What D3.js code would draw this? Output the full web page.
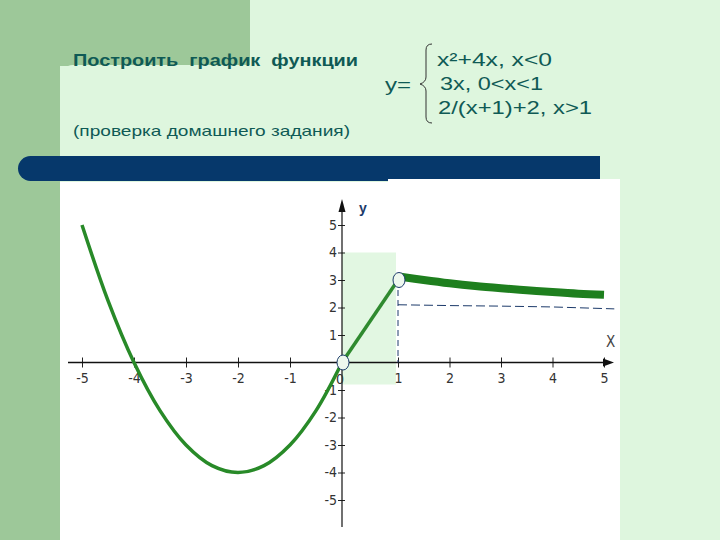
<!DOCTYPE html>
<html>
<head>
<meta charset="utf-8">
<script src="https://cdn.jsdelivr.net/npm/d3@7"></script>
<style>
  body { margin: 0; }
  svg { display: block; }
</style>
</head>
<body>
<div id="chart"></div>
<script>
// values
const xTicks = [-5, -4, -3, -2, -1, 1, 2, 3, 4, 5];
const yTicks = [-5, -4, -3, -2, -1, 1, 2, 3, 4, 5];

const parabolaX = [-5, -4.5, -4, -3.5, -3, -2.5, -2, -1.5, -1, -0.5, 0];
const parabolaY = [5, 2.25, 0, -1.75, -3, -3.75, -4, -3.75, -3, -1.75, 0];

const lineX = [0, 1];
const lineY = [0, 3];

const hypX = [1.05, 1.5, 2, 2.5, 3, 3.5, 4, 4.5, 5];
const hypY = [3.12, 3.0, 2.88, 2.78, 2.7, 2.63, 2.56, 2.5, 2.46];

const asymX = [1, 2, 3, 4, 5.2];
const asymY = [2.1, 2.07, 2.05, 2.02, 1.95];

const holeX = [0, 1];
const holeY = [0, 3];

const formulaLines = ["x²+4x, x<0", "3x, 0<x<1", "2/(x+1)+2, x>1"];
const formulaWidths = [115, 103, 154];

function draw() {
    const svg = d3.select("#chart").append("svg")
        .attr("width", 720)
        .attr("height", 540);

    // slide background
    svg.append("rect").attr("width", 720).attr("height", 540).attr("fill", "#def6de");
    svg.append("rect").attr("x", 0).attr("y", 0).attr("width", 60).attr("height", 540).attr("fill", "#9dc899");
    svg.append("rect").attr("x", 0).attr("y", 0).attr("width", 250).attr("height", 66).attr("fill", "#9dc899");
    svg.append("rect").attr("x", 60).attr("y", 65).attr("width", 300).attr("height", 100).attr("rx", 13).attr("fill", "#def6de");

    // dark bar
    svg.append("rect").attr("x", 18).attr("y", 156).attr("width", 100).attr("height", 25).attr("rx", 12.5).attr("fill", "#06386b");
    svg.append("rect").attr("x", 40).attr("y", 156).attr("width", 560).attr("height", 25).attr("fill", "#06386b");

    // plot area
    svg.append("rect").attr("x", 60).attr("y", 182).attr("width", 560).attr("height", 358).attr("fill", "#ffffff");
    svg.append("rect").attr("x", 388).attr("y", 179).attr("width", 232).attr("height", 361).attr("fill", "#ffffff");

    // headings (the slide text is stretched sideways, so fix its width)
    const teal = "#0f5a55";
    const sans = "Liberation Sans, Arial, sans-serif";
    svg.append("text").attr("x", 73).attr("y", 66)
        .attr("font-family", sans)
        .attr("font-size", 16).attr("font-weight", "bold").attr("fill", teal)
        .style("white-space", "pre")
        .attr("textLength", 285).attr("lengthAdjust", "spacingAndGlyphs")
        .text("Построить  график  функции");
    svg.append("text").attr("x", 73).attr("y", 136)
        .attr("font-family", sans)
        .attr("font-size", 15).attr("fill", teal)
        .attr("textLength", 277).attr("lengthAdjust", "spacingAndGlyphs")
        .text("(проверка домашнего задания)");

    svg.append("text").attr("x", 385).attr("y", 91)
        .attr("font-family", sans)
        .attr("font-size", 19).attr("fill", teal)
        .attr("textLength", 26).attr("lengthAdjust", "spacingAndGlyphs")
        .text("y=");
    svg.append("path")
        .attr("d", "M432,44 Q426,44 426,50 L426,77 Q426,82 420,84 Q426,86 426,91 L426,117 Q426,123 432,123")
        .attr("fill", "none").attr("stroke", "#333").attr("stroke-width", 1);
    svg.selectAll(".fline").data(formulaLines).enter().append("text")
        .attr("class", "fline")
        .attr("x", (d, i) => [437, 440, 438][i])
        .attr("y", (d, i) => 66 + i * 24)
        .attr("font-family", sans)
        .attr("font-size", 19).attr("fill", teal)
        .attr("textLength", (d, i) => formulaWidths[i]).attr("lengthAdjust", "spacingAndGlyphs")
        .text(d => d);

    // scales (the picture's unit spacing differs left and right of 0..1)
    const x = d3.scaleLinear().domain([-5, 0, 1, 5]).range([82, 342, 398, 604]);
    const y = d3.scaleLinear().domain([-5, 5]).range([500, 225]);

    // light highlight behind the 0..1 piece
    svg.append("rect")
        .attr("x", x(0)).attr("y", y(4))
        .attr("width", x(1) - x(0) - 2).attr("height", y(-0.8) - y(4))
        .attr("fill", "#e2f7e2");

    const labelFont = "Liberation Sans Narrow, DejaVu Sans Condensed, sans-serif";

    // x axis
    const xAxis = svg.append("g")
        .attr("transform", `translate(0,${y(0)})`)
        .call(d3.axisBottom(x).tickValues(xTicks).tickSize(5).tickFormat(d => String(d)));
    xAxis.select(".domain").remove();
    xAxis.selectAll(".tick line").attr("y1", -5).attr("y2", 5).attr("stroke", "#222");
    xAxis.selectAll(".tick text").attr("y", 11).attr("dy", "0.71em")
        .attr("font-family", labelFont).attr("font-size", 14).attr("fill", "#333");

    // y axis
    const yAxis = svg.append("g")
        .attr("transform", `translate(${x(0)},0)`)
        .call(d3.axisLeft(y).tickValues(yTicks).tickSize(4).tickFormat(d => String(d)));
    yAxis.select(".domain").remove();
    yAxis.selectAll(".tick line").attr("x1", -4).attr("x2", 3).attr("stroke", "#222");
    yAxis.selectAll(".tick text").attr("x", -5)
        .attr("font-family", labelFont).attr("font-size", 14).attr("fill", "#333");

    svg.append("line").attr("x1", 68).attr("x2", 606).attr("y1", y(0)).attr("y2", y(0))
        .attr("stroke", "#111").attr("stroke-width", 1.6);
    svg.append("path")
        .attr("d", `M614,${y(0)} L603,${y(0) - 4} L603,${y(0) + 4} Z`).attr("fill", "#111");
    svg.append("line").attr("x1", x(0)).attr("x2", x(0)).attr("y1", 208).attr("y2", 527)
        .attr("stroke", "#111").attr("stroke-width", 1.2);
    svg.append("path")
        .attr("d", `M${x(0)},199 L${x(0) - 3.5},212 L${x(0) + 3.5},212 Z`).attr("fill", "#111");

    svg.append("text").attr("x", 359).attr("y", 213)
        .attr("font-family", sans)
        .attr("font-size", 14).attr("font-weight", "bold").attr("fill", "#1c3a6a")
        .text("y");
    svg.append("text").attr("x", 606).attr("y", 347)
        .attr("font-family", labelFont)
        .attr("font-size", 15).attr("fill", "#444")
        .text("X");
    svg.append("text").attr("x", x(0) - 2).attr("y", y(0) + 21)
        .attr("text-anchor", "middle")
        .attr("font-family", labelFont).attr("font-size", 14).attr("fill", "#333")
        .text("0");

    // dashed guides
    const line = d3.line().x(d => x(d[0])).y(d => y(d[1]));
    svg.append("path")
        .datum(asymX.map((v, i) => [v, asymY[i]]))
        .attr("d", line)
        .attr("fill", "none").attr("stroke", "#1c3a6a").attr("stroke-width", 1)
        .attr("stroke-dasharray", "9,4");
    svg.append("path")
        .datum([[1, 3], [1, 0]])
        .attr("d", line)
        .attr("fill", "none").attr("stroke", "#1c3a6a").attr("stroke-width", 1)
        .attr("stroke-dasharray", "6,4");

    // curves
    const smooth = d3.line().x(d => x(d[0])).y(d => y(d[1])).curve(d3.curveCatmullRom);
    svg.append("path")
        .datum(parabolaX.map((v, i) => [v, parabolaY[i]]))
        .attr("d", smooth)
        .attr("fill", "none").attr("stroke", "#288a28").attr("stroke-width", 3.5);
    svg.append("path")
        .datum(lineX.map((v, i) => [v, lineY[i]]))
        .attr("d", line)
        .attr("fill", "none").attr("stroke", "#2f8a2f").attr("stroke-width", 3.5);
    svg.append("path")
        .datum(hypX.map((v, i) => [v, hypY[i]]))
        .attr("d", smooth)
        .attr("fill", "none").attr("stroke", "#1e7f1e").attr("stroke-width", 8)
        .attr("stroke-linecap", "butt");

    // open points
    svg.selectAll(".hole").data(holeX.map((v, i) => [v, holeY[i]])).enter().append("ellipse")
        .attr("class", "hole")
        .attr("cx", d => x(d[0]) + 1)
        .attr("cy", d => y(d[1]))
        .attr("rx", 6).attr("ry", 7.5)
        .attr("fill", "#eef8ee").attr("stroke", "#1c3a6a").attr("stroke-width", 1);
}

window.addEventListener("load", draw);
</script>
</body>
</html>
